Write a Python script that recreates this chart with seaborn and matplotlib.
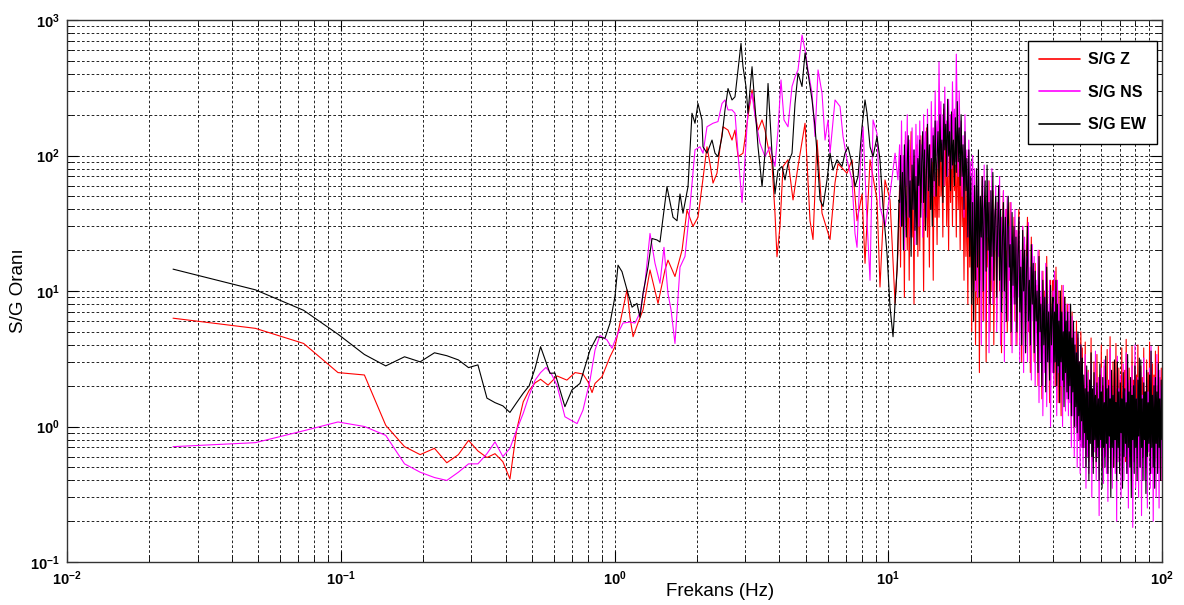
import numpy as np
import pandas as pd
import matplotlib
matplotlib.use("Agg")
import matplotlib.pyplot as plt
import seaborn as sns
from matplotlib.ticker import LogLocator, FuncFormatter, NullFormatter

# ---------------------------------------------------------------------------
# Site / reference spectral ratios (S/G) for the three components
# ---------------------------------------------------------------------------
COMPONENTS = ["S/G Z", "S/G NS", "S/G EW"]
COLORS = ["#ff0000", "#ff00ff", "#000000"]

# lowest FFT bins (df = 0.0244 Hz), shared by the three components
LOW_FREQ = [0.0244, 0.0488, 0.0732, 0.0977, 0.122, 0.146, 0.171, 0.195,
            0.220, 0.244, 0.269, 0.293, 0.317, 0.342, 0.366, 0.391, 0.415,
            0.439, 0.464, 0.488, 0.513, 0.537]

Z_LOW = [6.3, 5.3, 4.1, 2.5, 2.4, 1.02, 0.71, 0.62, 0.69, 0.54, 0.62, 0.79,
         0.66, 0.59, 0.63, 0.55, 0.41, 0.94, 1.52, 1.85, 2.1, 2.23]
NS_LOW = [0.71, 0.76, 0.93, 1.08, 1.0, 0.86, 0.53, 0.46, 0.42, 0.40, 0.46,
          0.53, 0.53, 0.63, 0.77, 0.60, 0.69, 0.94, 1.25, 1.7, 2.2, 2.5]
EW_LOW = [14.5, 10.2, 7.2, 4.8, 3.4, 2.8, 3.27, 3.0, 3.5, 3.33, 3.1, 2.72,
          2.85, 1.62, 1.5, 1.42, 1.27, 1.5, 1.76, 2.0, 2.7, 3.88]

# 0.55 - 11 Hz
Z_MID_FREQ = [0.572, 0.617, 0.670, 0.718, 0.767, 0.800, 0.828, 0.849, 0.900,
              0.963, 1.004, 1.047, 1.111, 1.139, 1.169, 1.218, 1.271, 1.348,
              1.442, 1.529, 1.568, 1.663, 1.765, 1.840, 1.935, 2.018, 2.087,
              2.177, 2.233, 2.290, 2.368, 2.428, 2.491, 2.598, 2.687, 2.755,
              2.826, 2.947, 3.074, 3.180, 3.261, 3.344, 3.459, 3.547, 3.638,
              3.761, 3.857, 3.922, 4.023, 4.126, 4.303, 4.489, 4.681, 4.966,
              5.179, 5.311, 5.493, 5.729, 6.128, 6.391, 6.555, 7.069, 7.373,
              7.690, 8.020, 8.225, 8.579, 9.099, 9.329, 9.730, 10.15, 10.59,
              10.85]
Z_MID = [2.02, 2.36, 2.2, 2.5, 2.44, 2.14, 1.78, 2.08, 2.33, 3.27, 3.88, 5.8,
         10.2, 6.4, 4.6, 5.8, 7.25, 14.3, 8.1, 14.3, 16.9, 12.8, 20, 39.6, 30,
         35, 58.8, 116, 87, 62.6, 74, 113, 163, 154, 130, 154, 98, 104, 194,
         305, 205, 154, 183, 154, 116, 87, 37.5, 17.9, 30, 83, 93, 47, 83, 173,
         33, 24, 130, 37.5, 24, 63, 87, 74, 93, 33, 52, 16, 93, 47, 10.7, 66,
         47, 8.1, 19]

NS_MID_FREQ = [0.562, 0.591, 0.617, 0.659, 0.730, 0.767, 0.814, 0.849, 0.885,
               0.939, 0.979, 1.030, 1.074, 1.139, 1.188, 1.239, 1.292, 1.348,
               1.406, 1.466, 1.516, 1.568, 1.610, 1.663, 1.735, 1.809, 1.887,
               1.968, 2.052, 2.105, 2.177, 2.290, 2.388, 2.470, 2.533, 2.598,
               2.687, 2.755, 2.826, 2.923, 2.997, 3.074, 3.180, 3.261, 3.401,
               3.547, 3.698, 3.857, 3.956, 4.057, 4.161, 4.303, 4.451, 4.565,
               4.681, 4.842, 4.966, 5.092, 5.267, 5.401, 5.540, 5.729, 5.876,
               6.026, 6.128, 6.391, 6.666, 6.836, 7.069, 7.373, 7.560, 7.690,
               7.886, 8.088, 8.364, 8.579, 8.799, 9.099, 9.329, 9.730, 10.15,
               10.59, 10.85]
NS_MID = [2.73, 2.4, 2.0, 1.18, 1.05, 1.32, 2.2, 3.67, 4.7, 4.35, 3.78, 4.9,
          5.8, 5.9, 5.8, 6.9, 11.4, 26.6, 16, 11.4, 21, 9.6, 7.2, 4.1, 15, 18,
          42, 110, 116, 104, 163, 173, 178, 242, 257, 217, 217, 205, 104, 45,
          93, 217, 288, 194, 123, 98, 116, 83, 154, 361, 183, 163, 323, 380,
          428, 775, 600, 428, 288, 138, 428, 288, 130, 183, 104, 257, 230, 138,
          93, 66, 26.6, 21, 78, 163, 33, 12, 183, 145, 42, 30, 52, 104, 66]

EW_MID_FREQ = [0.581, 0.606, 0.659, 0.699, 0.748, 0.814, 0.863, 0.923, 0.963,
               1.004, 1.030, 1.065, 1.111, 1.159, 1.208, 1.239, 1.271, 1.326,
               1.371, 1.430, 1.466, 1.555, 1.636, 1.692, 1.735, 1.779, 1.856,
               1.919, 1.968, 2.018, 2.087, 2.105, 2.177, 2.271, 2.329, 2.388,
               2.470, 2.533, 2.598, 2.687, 2.755, 2.826, 2.898, 2.947, 3.022,
               3.074, 3.180, 3.261, 3.344, 3.459, 3.547, 3.638, 3.761, 3.857,
               3.956, 4.091, 4.196, 4.303, 4.451, 4.565, 4.681, 4.842, 4.966,
               5.092, 5.267, 5.401, 5.493, 5.634, 5.778, 5.975, 6.128, 6.285,
               6.500, 6.779, 6.950, 7.128, 7.373, 7.560, 7.755, 8.020, 8.225,
               8.364, 8.579, 8.799, 9.099, 9.329, 9.568, 9.895, 10.15, 10.41,
               10.77, 10.95]
EW_MID = [2.47, 2.48, 1.4, 1.86, 2.08, 3.67, 4.6, 4.48, 5.8, 9.1, 15.5, 13.9,
          10.2, 7.6, 8.1, 6.4, 9.6, 15.1, 24.4, 23.8, 23, 58.8, 35, 33, 52,
          37.5, 59, 205, 173, 242, 183, 116, 104, 130, 104, 98, 138, 217, 312,
          257, 271, 428, 672, 452, 323, 205, 452, 230, 116, 59, 104, 340, 104,
          52, 78, 83, 66, 87, 104, 242, 405, 323, 570, 405, 257, 163, 104, 47,
          42, 66, 104, 78, 93, 83, 104, 116, 87, 59, 70, 163, 257, 205, 116, 98,
          138, 93, 42, 19, 7.6, 4.6, 14.3, 47]

# 11 - 40 Hz: densely sampled part of the spectra
HF1_FREQ = np.geomspace(11.0, 39.8, 160)

Z_HF1 = [60, 15, 110, 30, 80, 9, 130, 40, 20, 95, 12, 70, 150, 25, 60, 8, 100, 35, 120, 18,
         80, 20, 140, 45, 60, 10, 100, 30, 160, 25, 70, 15, 120, 40, 90, 12, 130, 35, 75, 22,
         110, 35, 180, 50, 90, 25, 220, 60, 130, 30, 95, 20, 160, 45, 120, 30, 200, 55, 85, 25,
         150, 40, 95, 20, 120, 30, 70, 12, 90, 18, 60, 8, 75, 15, 45, 5, 55, 10, 40, 4,
         35, 8, 60, 2.5, 45, 12, 70, 6, 30, 50, 3, 40, 15, 65, 5, 35, 10, 55, 4, 30,
         45, 6, 25, 50, 10, 35, 3.5, 30, 55, 8, 20, 40, 5, 28, 12, 45, 4, 25, 9, 35,
         6, 28, 4, 20, 40, 7, 15, 3, 30, 9, 22, 3.5, 18, 35, 5, 12, 2.5, 25, 8, 14,
         3, 16, 5, 11, 2, 20, 4, 9, 1.6, 14, 3.5, 10, 2, 18, 4, 7, 1.5, 12, 3, 9]

NS_HF1 = [120, 30, 180, 50, 100, 20, 150, 60, 200, 35, 130, 25, 90, 160, 40, 110, 22, 170, 55, 140,
          30, 180, 60, 120, 25, 200, 80, 150, 35, 220, 70, 110, 40, 250, 90, 160, 50, 300, 100, 180,
          80, 490, 150, 250, 90, 200, 60, 320, 120, 180, 70, 260, 110, 200, 80, 350, 130, 220, 90, 560,
          200, 70, 300, 110, 180, 50, 140, 35, 200, 60, 110, 25, 130, 40, 90, 15, 100, 20, 80, 10,
          60, 9, 90, 20, 50, 4, 70, 15, 85, 6, 45, 25, 65, 3.5, 55, 12, 80, 8, 40, 20,
          60, 5, 45, 18, 70, 4, 35, 10, 55, 3, 40, 20, 50, 6, 30, 12, 45, 3.5, 25, 8,
          40, 4, 28, 9, 35, 3, 20, 6, 30, 2.5, 25, 8, 18, 3, 32, 5, 15, 2.2, 22, 6,
          18, 2, 12, 4, 20, 1.5, 10, 3, 14, 1.2, 9, 2.5, 16, 1.4, 8, 3, 12, 1, 7, 2.5]

EW_HF1 = [45, 100, 30, 75, 20, 120, 55, 25, 90, 140, 35, 65, 18, 85, 40, 110, 28, 70, 22, 95,
          60, 130, 35, 90, 150, 45, 110, 28, 80, 170, 55, 120, 40, 95, 30, 140, 65, 180, 50, 100,
          150, 60, 200, 90, 130, 45, 240, 110, 170, 70, 260, 100, 150, 55, 210, 85, 130, 60, 190, 75,
          250, 90, 160, 60, 200, 70, 120, 40, 150, 55, 95, 25, 110, 18, 70, 8, 45, 6, 60, 12,
          80, 15, 110, 9, 50, 25, 70, 10, 40, 65, 14, 85, 20, 45, 8, 55, 18, 75, 12, 35,
          50, 9, 30, 60, 12, 40, 7, 25, 45, 10, 35, 6, 28, 50, 15, 22, 5, 38, 11, 30,
          8, 25, 5, 18, 35, 7, 15, 4, 28, 10, 20, 3.5, 14, 30, 6, 12, 4, 22, 8, 16,
          3.5, 14, 6, 10, 2.5, 18, 5, 8, 2, 12, 4, 9, 1.8, 15, 3, 7, 2.2, 11, 4, 8]

# 40 - 100 Hz
HF2_FREQ = np.geomspace(40.0, 100.0, 150)

Z_HF2 = [12, 3, 8, 2, 15, 3.5, 6, 1.5, 10, 2.5, 7, 1.2, 11, 3, 5, 2, 9, 1.5, 6, 2.2,
         8, 1.5, 6, 2.5, 4, 1, 7, 1.8, 5, 0.9, 3.5, 1.3, 6, 1, 4.5, 0.8, 3, 1.2, 5, 0.9,
         3.8, 0.8, 2.0, 1.0, 4.2, 0.6, 1.8, 0.9, 2.6, 0.55, 2.2, 0.8, 4.5, 0.7, 1.7, 0.6, 3.0, 0.9, 2.0, 0.5,
         3.4, 0.75, 1.8, 0.6, 2.4, 0.9, 4.0, 0.5, 2.0, 0.8, 2.8, 0.65, 1.7, 0.9, 3.7, 0.55, 2.2, 0.7, 4.6, 0.6,
         2.0, 0.8, 3.0, 0.5, 2.5, 0.7, 4.1, 0.6, 1.9, 0.85, 2.7, 0.45, 2.2, 0.75, 3.8, 0.6, 1.8, 0.9, 2.6, 0.55,
         4.4, 0.7, 2.1, 0.6, 2.7, 0.8, 1.9, 0.5, 3.9, 0.7, 2.2, 0.65, 3.0, 0.4, 2.4, 0.75, 4.0, 0.6, 2.0, 0.8,
         2.8, 0.55, 2.3, 0.7, 3.8, 0.6, 1.8, 0.8, 3.1, 0.45, 2.5, 0.7, 4.2, 0.6, 2.1, 0.75, 2.9, 0.5, 2.4, 0.7,
         3.6, 0.6, 2.0, 0.8, 3.9, 0.5, 2.3, 0.7, 2.7, 0.4]

NS_HF2 = [10, 2, 14, 3, 7, 1.2, 12, 2.5, 8, 1.5, 9, 2, 6, 1, 11, 2.2, 7, 1.3, 8, 1.6,
          6, 1.2, 8, 1.5, 4, 0.7, 6.5, 1.2, 4.5, 0.6, 5, 1, 3.5, 0.5, 4.8, 0.8, 3, 0.45, 4, 0.7,
          2.2, 0.5, 1.6, 0.7, 3.4, 0.35, 1.8, 0.6, 2.5, 0.45, 1.5, 0.8, 2.9, 0.3, 1.7, 0.55, 2.0, 0.65, 3.6, 0.4,
          1.6, 0.6, 2.3, 0.22, 1.9, 0.7, 2.7, 0.5, 1.5, 0.38, 3.1, 0.6, 1.8, 0.45, 2.2, 0.28, 1.6, 0.7, 3.8, 0.5,
          2.0, 0.35, 1.7, 0.6, 2.6, 0.45, 1.5, 0.2, 3.3, 0.55, 1.9, 0.65, 2.4, 0.3, 1.6, 0.5, 2.9, 0.4, 1.8, 0.6,
          3.5, 0.45, 1.7, 0.25, 2.2, 0.6, 1.5, 0.4, 2.8, 0.18, 1.9, 0.55, 4.0, 0.35, 1.6, 0.6, 2.3, 0.3, 1.8, 0.5,
          2.5, 0.22, 1.7, 0.6, 3.2, 0.4, 1.5, 0.5, 2.1, 0.25, 1.8, 0.65, 2.7, 0.35, 3.9, 0.45, 1.6, 0.2, 2.3, 0.55,
          1.9, 0.3, 3.4, 0.5, 1.7, 0.25, 2.6, 0.6, 2.0, 0.4]

EW_HF2 = [9, 2.5, 7, 3, 12, 2, 8, 2.8, 6, 1.5, 10, 3, 7, 2.2, 5, 1.4, 9, 2.5, 6, 1.8,
          7, 1.6, 5, 2, 8, 1.2, 4.5, 1.8, 6, 1, 4, 1.4, 3.5, 0.9, 5, 1.2, 3, 0.8, 4, 1.1,
          3.2, 0.7, 2.4, 0.9, 1.9, 0.5, 2.8, 0.8, 1.8, 0.4, 2.2, 0.75, 3.5, 0.6, 1.9, 0.45, 2.5, 0.8, 1.7, 0.55,
          2.1, 0.7, 1.6, 0.4, 2.9, 0.8, 1.8, 0.35, 2.3, 0.7, 1.5, 0.5, 3.3, 0.75, 1.9, 0.45, 2.0, 0.85, 1.6, 0.3,
          2.6, 0.7, 1.7, 0.5, 3.1, 0.8, 1.5, 0.4, 3.0, 0.7, 1.8, 0.45, 2.1, 0.9, 1.6, 0.35, 2.5, 0.6, 1.9, 0.75,
          1.5, 0.45, 3.4, 0.7, 1.8, 0.5, 2.3, 0.3, 1.7, 0.8, 2.0, 0.45, 2.8, 0.7, 1.6, 0.4, 2.2, 0.85, 3.2, 0.5,
          3.1, 0.7, 1.6, 0.4, 2.1, 0.8, 1.8, 0.32, 2.6, 0.6, 1.5, 0.75, 2.4, 0.45, 3.6, 0.7, 1.7, 0.5, 2.0, 0.35,
          2.3, 0.75, 1.8, 0.45, 2.9, 0.7, 1.6, 0.4, 2.2, 0.8]

# ---------------------------------------------------------------------------
# long-form table
# ---------------------------------------------------------------------------
series = [
    ("S/G Z", Z_MID_FREQ, Z_LOW, Z_MID, Z_HF1, Z_HF2),
    ("S/G NS", NS_MID_FREQ, NS_LOW, NS_MID, NS_HF1, NS_HF2),
    ("S/G EW", EW_MID_FREQ, EW_LOW, EW_MID, EW_HF1, EW_HF2),
]
frames = []
for name, mid_f, low_v, mid_v, hf1_v, hf2_v in series:
    freq = np.concatenate([LOW_FREQ, mid_f, HF1_FREQ, HF2_FREQ])
    vals = np.concatenate([low_v, mid_v, hf1_v, hf2_v])
    frames.append(pd.DataFrame({"freq": freq, "ratio": vals, "comp": name}))
df = pd.concat(frames, ignore_index=True)

# ---------------------------------------------------------------------------
# styling
# ---------------------------------------------------------------------------
sns.set_theme(style="white")
plt.rcParams["font.family"] = ["Liberation Sans", "DejaVu Sans"]
plt.rcParams["mathtext.fontset"] = "custom"
plt.rcParams["mathtext.rm"] = "Liberation Sans"
plt.rcParams["mathtext.bf"] = "Liberation Sans:bold"
plt.rcParams["mathtext.it"] = "Liberation Sans:italic"
for key in ["text.color", "axes.labelcolor", "xtick.color", "ytick.color"]:
    plt.rcParams[key] = "black"

W, H = 1184, 605
fig = plt.figure(figsize=(W / 100, H / 100), dpi=100)
fig.patch.set_facecolor("white")
ax = fig.add_axes([67 / W, 43 / H, 1095 / W, 542 / H])
ax.set_xscale("log")
ax.set_yscale("log")

sns.lineplot(data=df, x="freq", y="ratio", hue="comp", hue_order=COMPONENTS,
             palette=COLORS, estimator=None, sort=False, linewidth=0.8,
             ax=ax)

ax.set_xlim(1e-2, 1e2)
ax.set_ylim(1e-1, 1e3)

# dashed major + minor grid
ax.grid(True, which="both", color="black", linestyle=(0, (3.2, 2.6)),
        linewidth=0.6)
ax.set_axisbelow(True)

dec = FuncFormatter(lambda v, p: r"$\mathbf{10^{%d}}$" % int(round(np.log10(v))))
for axis in (ax.xaxis, ax.yaxis):
    axis.set_major_locator(LogLocator(base=10, numticks=12))
    axis.set_minor_locator(LogLocator(base=10, subs=np.arange(2, 10), numticks=100))
    axis.set_major_formatter(dec)
    axis.set_minor_formatter(NullFormatter())

ax.tick_params(which="both", direction="in", top=True, right=True,
               bottom=True, left=True, colors="black")
ax.tick_params(which="major", length=8, width=0.8, labelsize=10.5, pad=5)
ax.tick_params(which="minor", length=4, width=0.6)
for side in ax.spines.values():
    side.set_color("#333333")
    side.set_linewidth(1.0)

ax.set_xlabel("Frekans (Hz)", fontsize=13.5)
ax.set_ylabel("S/G Oranı", fontsize=13.5)
ax.xaxis.set_label_coords(0.596, -0.039)
ax.yaxis.set_label_coords(-0.0365, 0.5)

handles, labels = ax.get_legend_handles_labels()
leg = ax.legend(handles, labels, loc="upper right",
                bbox_to_anchor=(1157 / W, 1 - 41 / H),
                bbox_transform=fig.transFigure, borderaxespad=0,
                frameon=True, fancybox=False, framealpha=1,
                edgecolor="black", prop={"weight": "bold", "size": 11.5},
                handlelength=2.55, handletextpad=0.5, labelspacing=1.1,
                borderpad=0.7)
leg.get_frame().set_linewidth(1.0)
for line in leg.get_lines():
    line.set_linewidth(1.2)

fig.savefig("out.png", dpi=100, facecolor="white")
